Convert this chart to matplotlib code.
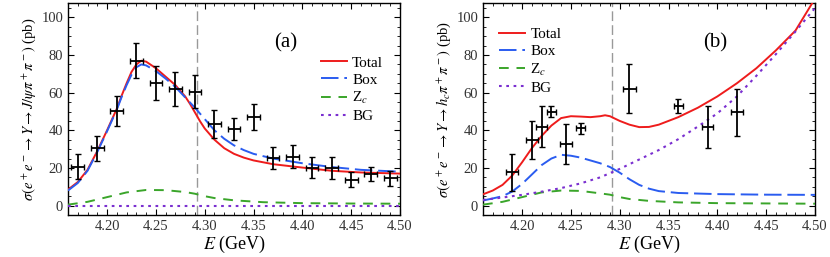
import matplotlib
matplotlib.use("Agg")
import matplotlib.pyplot as plt
import numpy as np
from matplotlib.ticker import MultipleLocator, FormatStrFormatter

plt.rcParams['font.family'] = ['Liberation Serif', 'DejaVu Serif']
plt.rcParams['mathtext.fontset'] = 'stix'

# ---------------- data: panel (a) J/psi pi pi ----------------
a_E = [4.17, 4.19, 4.21, 4.23, 4.25, 4.27, 4.29, 4.31, 4.33, 4.35, 4.37,
       4.39, 4.41, 4.43, 4.45, 4.47, 4.49]
a_sig = [20.7, 30.5, 50.4, 77.0, 65.0, 62.0, 60.6, 43.4, 40.8, 47.0, 25.5,
         26.0, 20.0, 20.0, 13.7, 16.7, 14.5]
a_err = [6.5, 6.7, 8.0, 9.4, 9.0, 9.0, 8.8, 7.6, 6.0, 7.0, 5.8,
         6.0, 5.6, 6.0, 4.0, 3.8, 4.0]
a_xerr = [0.0065] * 17

a_tot_E = [4.16, 4.17, 4.18, 4.19, 4.20, 4.21, 4.215, 4.22, 4.225, 4.23, 4.235,
           4.24, 4.25, 4.26, 4.27, 4.28, 4.285, 4.29, 4.295, 4.30, 4.31, 4.32,
           4.33, 4.34, 4.35, 4.37, 4.40, 4.43, 4.46, 4.50]
a_tot = [8.5, 12.5, 19.0, 29.0, 40.0, 51.5, 58.5, 65.0, 71.0, 75.0, 77.0,
         76.5, 73.0, 68.5, 64.0, 58.0, 54.0, 49.5, 45.0, 41.0, 35.0, 30.5,
         27.5, 25.5, 24.0, 22.0, 20.2, 18.5, 17.6, 17.0]
a_box_E = [4.16, 4.17, 4.18, 4.19, 4.20, 4.21, 4.215, 4.22, 4.225, 4.23, 4.235,
           4.24, 4.25, 4.26, 4.27, 4.28, 4.29, 4.30, 4.31, 4.32, 4.33, 4.34,
           4.35, 4.37, 4.40, 4.43, 4.46, 4.50]
a_box = [8.0, 12.0, 18.5, 28.5, 39.5, 51.0, 57.8, 64.0, 69.5, 73.5, 75.0,
         74.5, 71.5, 67.5, 63.0, 57.5, 52.0, 46.0, 40.0, 35.5, 32.0, 29.5,
         27.5, 25.0, 22.5, 20.5, 19.0, 18.0]
a_zc_E = [4.16, 4.18, 4.20, 4.22, 4.24, 4.26, 4.28, 4.29, 4.30, 4.31, 4.33,
          4.36, 4.40, 4.45, 4.50]
a_zc = [0.5, 2.0, 4.5, 7.0, 8.3, 8.2, 7.2, 6.3, 5.0, 4.0, 2.8, 1.8, 1.3, 1.1, 1.0]
a_bg_E = [4.16, 4.50]
a_bg = [0.0, 0.0]

# ---------------- data: panel (b) h_c pi pi ----------------
b_E = [4.19, 4.21, 4.22, 4.23, 4.245, 4.26, 4.31, 4.36, 4.39, 4.42]
b_sig = [17.6, 35.0, 42.0, 50.0, 32.8, 41.0, 62.0, 52.7, 41.7, 49.5]
b_err = [10.0, 10.0, 11.0, 3.0, 10.5, 2.8, 13.0, 3.7, 11.0, 12.5]
b_xerr = [0.006, 0.006, 0.006, 0.0045, 0.006, 0.0046, 0.007, 0.0046, 0.0057, 0.006]

b_tot_E = [4.16, 4.17, 4.18, 4.19, 4.20, 4.21, 4.22, 4.23, 4.24, 4.25, 4.26,
           4.27, 4.28, 4.285, 4.29, 4.30, 4.31, 4.32, 4.33, 4.34, 4.36, 4.38,
           4.40, 4.42, 4.44, 4.46, 4.48, 4.50]
b_tot = [6.0, 8.0, 11.0, 16.0, 23.0, 30.5, 37.0, 42.5, 46.5, 47.5, 47.3,
         47.0, 47.5, 48.0, 47.5, 45.0, 43.0, 41.7, 41.8, 43.0, 47.0, 52.0,
         58.0, 65.0, 73.0, 82.5, 93.0, 110.0]
b_box_E = [4.16, 4.17, 4.18, 4.19, 4.20, 4.21, 4.22, 4.23, 4.24, 4.25, 4.26,
           4.27, 4.28, 4.29, 4.30, 4.31, 4.32, 4.33, 4.34, 4.36, 4.40, 4.45, 4.50]
b_box = [2.7, 3.8, 5.0, 7.5, 11.5, 16.5, 21.5, 25.0, 27.0, 26.5, 25.5,
         24.0, 22.5, 20.5, 17.5, 14.0, 11.0, 9.0, 7.7, 6.7, 6.1, 5.8, 5.7]
b_zc_E = [4.16, 4.18, 4.20, 4.22, 4.24, 4.26, 4.28, 4.29, 4.30, 4.31, 4.33,
          4.36, 4.40, 4.50]
b_zc = [0.5, 2.0, 4.5, 7.0, 8.0, 7.8, 6.5, 5.8, 4.5, 3.5, 2.5, 1.7, 1.3, 1.0]
b_bg_E = [4.16, 4.18, 4.20, 4.22, 4.24, 4.26, 4.28, 4.30, 4.32, 4.34, 4.36,
          4.38, 4.40, 4.42, 4.44, 4.46, 4.48, 4.50]
b_bg = [3.0, 4.3, 5.7, 7.4, 9.3, 11.8, 15.0, 19.5, 24.5, 29.5, 35.3,
        42.0, 49.0, 58.0, 69.0, 80.5, 92.5, 105.0]

threshold = 4.292
labels = ["Total", "Box", "Z$_c$", "BG"]

c_red = '#ee1c1c'
c_blue = '#2a5cf0'
c_green = '#3aa52a'
c_purple = '#7a2fd0'

fig = plt.figure(figsize=(8.3, 2.57), dpi=100)
ax1 = fig.add_axes([68 / 830, 42 / 257, 332 / 830, 211.7 / 257])
ax2 = fig.add_axes([483 / 830, 42 / 257, 332 / 830, 211.7 / 257])


def draw(ax, E, sig, err, xerr, tot, box, zc, bg, ylabel, tag, tagpos, legpos):
    l1, = ax.plot(tot[0], tot[1], color=c_red, lw=1.4, zorder=3)
    l2, = ax.plot(box[0], box[1], color=c_blue, lw=1.4, dashes=(9, 3), zorder=3)
    l3, = ax.plot(zc[0], zc[1], color=c_green, lw=1.4, dashes=(5, 4), zorder=3)
    l4, = ax.plot(bg[0], bg[1], color=c_purple, lw=1.5, dashes=(1.3, 2.2), zorder=3)
    ax.axvline(threshold, color='#999999', lw=1.0, dashes=(7, 3), zorder=1)
    ax.errorbar(E, sig, yerr=err, xerr=xerr, fmt='none', ecolor='black',
                elinewidth=1.3, capsize=2.0, capthick=1.0, zorder=4)
    ax.set_xlim(4.16, 4.50)
    ax.set_ylim(-5, 107.5)
    ax.xaxis.set_major_locator(MultipleLocator(0.05))
    ax.xaxis.set_minor_locator(MultipleLocator(0.01))
    ax.yaxis.set_major_locator(MultipleLocator(20))
    ax.yaxis.set_minor_locator(MultipleLocator(5))
    ax.xaxis.set_major_formatter(FormatStrFormatter('%.2f'))
    ax.tick_params(which='both', direction='in', top=True, right=True,
                   labelsize=10.5, colors='black', labelcolor='#333333')
    ax.tick_params(which='major', length=4, width=0.8)
    ax.tick_params(which='minor', length=2, width=0.6)
    for s in ax.spines.values():
        s.set_linewidth(1.0)
    ax.set_xlabel('$E$ (GeV)', fontsize=13, labelpad=1)
    ax.set_ylabel(ylabel, fontsize=10.5, labelpad=2)
    ax.text(tagpos[0], tagpos[1], tag, transform=ax.transAxes, fontsize=15,
            ha='center', va='center')
    ax.legend([l1, l2, l3, l4], labels, loc='upper left', bbox_to_anchor=legpos,
              frameon=False, fontsize=11, handlelength=1.7, handletextpad=0.35,
              labelspacing=0.22, borderaxespad=0)


draw(ax1, a_E, a_sig, a_err, a_xerr, (a_tot_E, a_tot), (a_box_E, a_box),
     (a_zc_E, a_zc), (a_bg_E, a_bg),
     r'$\sigma(e^+e^-\to Y\to J/\psi\pi^+\pi^-)$ (pb)', '(a)', (0.655, 0.815),
     (0.743, 0.78))
draw(ax2, b_E, b_sig, b_err, b_xerr, (b_tot_E, b_tot), (b_box_E, b_box),
     (b_zc_E, b_zc), (b_bg_E, b_bg),
     r'$\sigma(e^+e^-\to Y\to h_c\pi^+\pi^-)$ (pb)', '(b)', (0.70, 0.815),
     (0.03, 0.915))

fig.savefig('out.png', dpi=100)
